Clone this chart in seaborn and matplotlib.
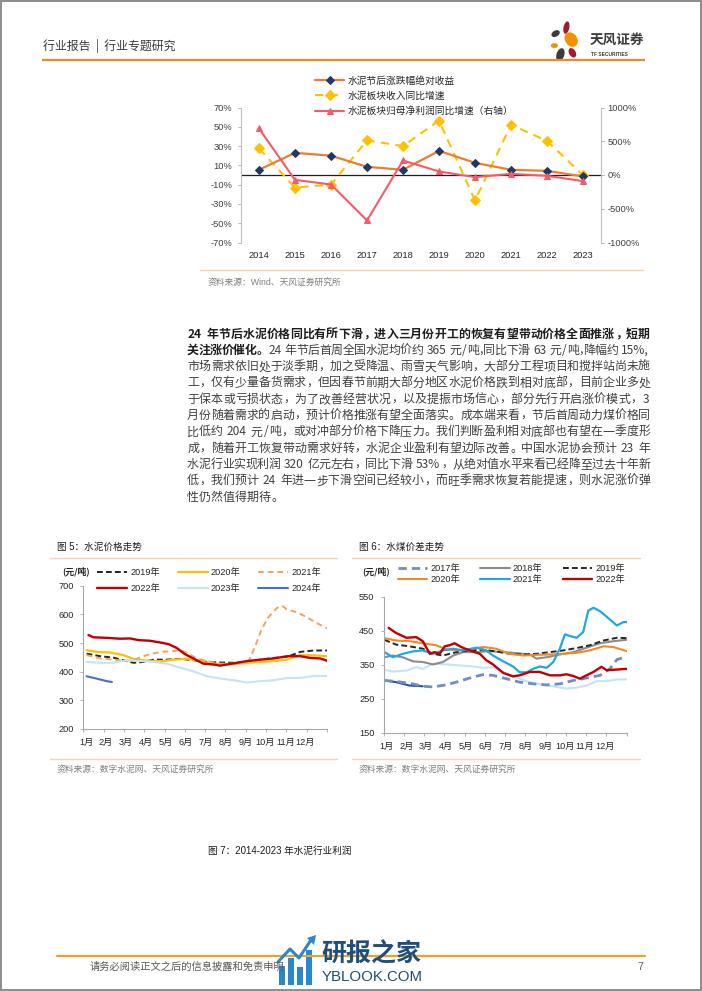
import matplotlib
matplotlib.use("Agg")
import matplotlib.pyplot as plt
import seaborn as sns
import numpy as np
from matplotlib.patches import Ellipse, Rectangle, Polygon

# ---------------- data ----------------
years = ['2014', '2015', '2016', '2017', '2018', '2019', '2020', '2021', '2022', '2023']
abs_ret = [5.4, 23.0, 20.0, 8.5, 5.4, 25.0, 12.6, 5.4, 4.3, -1.5]
rev_growth = [27.5, -13.0, -10.0, 36.0, 30.0, 56.5, -26.4, 52.0, 35.4, -0.2]
np_growth = [689, -72, -141, -674, 215, 52, -32, 17, -12, -91]
top_labels = ['水泥节后涨跌幅绝对收益', '水泥板块收入同比增速', '水泥板块归母净利润同比增速（右轴）']

months = ['1月', '2月', '3月', '4月', '5月', '6月', '7月', '8月', '9月', '10月', '11月', '12月']

# Fig 5: cement price (yuan/ton), x = week of year
f5_wk_2019 = [0.7, 3.6, 6.4, 8.5, 10.7, 12.8, 15.0, 17.8, 20.7, 23.5, 26.4, 29.2, 32.1, 34.9, 37.8, 40.6, 43.5, 46.3, 49.2, 52.0]
f5_2019 = [463, 454, 449, 440, 431, 434, 442, 442, 445, 440, 434, 432, 431, 434, 442, 448, 452, 469, 474, 474]
f5_wk_2020 = [0.7, 2.8, 5.7, 8.5, 10.7, 12.8, 15.0, 17.1, 19.2, 22.1, 24.2, 26.4, 29.2, 32.1, 34.9, 37.8, 40.6, 43.4, 46.3, 49.1, 52.0]
f5_2020 = [475, 469, 467, 458, 445, 440, 437, 437, 442, 445, 440, 431, 426, 426, 431, 434, 437, 442, 458, 457, 454]
f5_wk_2021 = [0.7, 3.6, 6.4, 9.3, 11.4, 13.5, 16.4, 19.2, 20.7, 22.1, 24.2, 26.4, 29.2, 32.1, 35.3, 36.7, 38.1, 39.5, 41.3, 42.4, 43.4, 45.6, 47.7, 49.9, 52.0]
f5_2021 = [458, 446, 442, 437, 445, 458, 469, 472, 475, 466, 446, 437, 428, 428, 437, 490, 550, 590, 622, 630, 618, 607, 590, 569, 551]
f5_wk_2022 = [1.1, 2.1, 5.0, 7.8, 10.0, 11.8, 14.2, 16.7, 18.2, 19.9, 21.7, 23.5, 25.6, 27.8, 29.2, 30.6, 32.8, 34.9, 37.8, 40.6, 43.5, 46.3, 48.4, 50.6, 52.0]
f5_2022 = [528, 520, 518, 515, 516, 510, 508, 501, 496, 483, 461, 446, 428, 425, 421, 425, 431, 437, 442, 446, 454, 454, 448, 446, 438]
f5_wk_2023 = [0.7, 3.6, 6.4, 9.3, 12.1, 15.0, 17.8, 20.7, 23.5, 26.4, 29.2, 32.1, 34.9, 37.8, 40.6, 43.5, 46.3, 49.2, 52.0]
f5_2023 = [434, 431, 431, 440, 437, 434, 428, 414, 401, 384, 376, 370, 362, 367, 370, 378, 378, 385, 385]
f5_wk_2024 = [0.7, 2.8, 5.0, 6.1]
f5_2024 = [384, 376, 367, 364]

# Fig 6: cement-coal price spread (yuan/ton)
f6_wk_2017 = [0.2, 2.7, 6.3, 8.4, 10.6, 13.4, 16.3, 19.1, 21.3, 23.4, 26.3, 29.1, 32.0, 34.9, 37.7, 40.6, 43.4, 46.3, 48.4, 49.9, 52.0]
f6_2017 = [304, 301, 294, 287, 285, 291, 302, 314, 321, 319, 309, 299, 294, 291, 294, 304, 311, 319, 338, 365, 374]
f6_wk_2018 = [0.2, 2.0, 4.1, 6.3, 8.4, 10.6, 12.7, 14.9, 17.0, 19.9, 22.7, 25.6, 28.4, 31.3, 32.7, 34.9, 37.7, 40.6, 43.4, 46.3, 49.1, 52.0]
f6_2018 = [372, 377, 372, 360, 358, 351, 358, 377, 387, 387, 390, 387, 384, 380, 368, 372, 380, 387, 400, 413, 419, 423]
f6_wk_2019 = [0.2, 2.7, 5.6, 8.4, 10.6, 12.7, 15.6, 18.4, 21.3, 24.1, 27.0, 29.9, 32.7, 35.6, 38.4, 41.3, 44.1, 47.0, 49.9, 52.0]
f6_2019 = [423, 409, 404, 397, 382, 377, 387, 392, 394, 389, 382, 380, 382, 387, 392, 399, 407, 421, 429, 428]
f6_wk_2020 = [0.2, 2.7, 5.6, 8.4, 11.3, 13.4, 16.3, 19.1, 21.3, 24.1, 27.0, 29.9, 32.7, 35.6, 38.4, 41.3, 44.1, 47.0, 49.1, 52.0]
f6_2020 = [428, 421, 419, 413, 407, 395, 392, 397, 402, 397, 382, 377, 379, 380, 382, 385, 392, 404, 402, 390]
f6_wk_2021 = [0.2, 2.0, 4.1, 6.3, 8.4, 10.6, 12.7, 14.9, 17.0, 19.9, 22.0, 23.4, 25.6, 27.7, 29.1, 30.6, 32.0, 33.4, 34.9, 36.3, 37.7, 38.8, 39.9, 41.3, 42.7, 43.8, 44.9, 46.3, 47.7, 49.9, 51.3, 52.0]
f6_2021 = [387, 372, 382, 389, 392, 382, 392, 397, 392, 400, 392, 377, 360, 345, 328, 328, 338, 345, 341, 358, 397, 439, 434, 429, 446, 509, 517, 507, 491, 465, 475, 475]
f6_wk_2022 = [1.1, 2.7, 4.9, 7.0, 8.4, 9.9, 10.9, 12.0, 13.1, 14.1, 15.2, 16.6, 18.4, 20.6, 22.0, 23.4, 25.6, 27.7, 29.1, 31.3, 33.4, 35.6, 37.7, 39.1, 40.6, 42.0, 43.4, 44.9, 46.6, 47.7, 49.9, 52.0]
f6_2022 = [458, 443, 429, 431, 419, 382, 387, 382, 404, 407, 413, 402, 392, 382, 363, 351, 326, 316, 319, 329, 329, 319, 319, 322, 317, 309, 319, 329, 344, 334, 336, 338]
f6_wk_2023 = [0.2, 2.0, 4.9, 7.0, 8.4, 10.6, 13.4, 16.3, 19.1, 21.3, 23.4, 25.6, 28.4, 31.3, 34.1, 37.0, 39.1, 41.3, 43.4, 45.6, 47.7, 49.9, 52.0]
f6_2023 = [335, 330, 333, 343, 338, 353, 351, 348, 345, 341, 343, 329, 312, 299, 291, 285, 280, 283, 289, 302, 302, 307, 307]
f6_wk_2024 = [0.2, 2.7, 5.6, 8.4]
f6_2024 = [304, 299, 289, 287]

body_lines = [
    [("24 年节后水泥价格同比有所下滑，进入三月份开工的恢复有望带动价格全面推涨，短期", 'bold')],
    [("关注涨价催化。", 'bold'), ("24 年节后首周全国水泥均价约 365 元/吨,同比下滑 63 元/吨,降幅约 15%,", 'normal')],
    [("市场需求依旧处于淡季期，加之受降温、雨雪天气影响，大部分工程项目和搅拌站尚未施", 'normal')],
    [("工，仅有少量备货需求，但因春节前期大部分地区水泥价格跌到相对底部，目前企业多处", 'normal')],
    [("于保本或亏损状态，为了改善经营状况，以及提振市场信心，部分先行开启涨价模式，3", 'normal')],
    [("月份随着需求的启动，预计价格推涨有望全面落实。成本端来看，节后首周动力煤价格同", 'normal')],
    [("比低约 204 元/吨，或对冲部分价格下降压力。我们判断盈利相对底部也有望在一季度形", 'normal')],
    [("成，随着开工恢复带动需求好转，水泥企业盈利有望边际改善。中国水泥协会预计 23 年", 'normal')],
    [("水泥行业实现利润 320 亿元左右，同比下滑 53%，从绝对值水平来看已经降至过去十年新", 'normal')],
    [("低，我们预计 24 年进一步下滑空间已经较小，而旺季需求恢复若能提速，则水泥涨价弹", 'normal')],
    [("性仍然值得期待。", 'normal')],
]

# ---------------- setup ----------------
sns.set_theme(style="white")
CJK = ["Noto Sans CJK SC", "DejaVu Sans"]
NUM = ["Liberation Sans", "Noto Sans CJK SC", "DejaVu Sans"]
plt.rcParams["font.family"] = CJK
plt.rcParams["axes.unicode_minus"] = False

W, H = 702, 991
fig = plt.figure(figsize=(W / 100, H / 100), dpi=100)
fig.patch.set_facecolor("white")
bg = fig.add_axes([0, 0, 1, 1], zorder=0)
bg.set_xlim(0, W)
bg.set_ylim(H, 0)
bg.axis("off")
renderer = fig.canvas.get_renderer()

ORANGE_LINE = "#E98A2C"
LIGHT_LINE = "#F6D2AE"

# page frame
bg.add_patch(Rectangle((0.8, 0.8), W - 2.0, H - 2.0, fill=False, ec="#8C8C8C", lw=1.4))

# ---------------- header ----------------
bg.text(43, 46, "行业报告  |  行业专题研究", fontsize=8.6, color="#3A3A3A", va="center", ha="left", family=CJK)
bg.plot([42, 645], [59.5, 59.5], color=ORANGE_LINE, lw=1.6, solid_capstyle="butt")
petals = [
    ((555.6, 33.6), 9.0, 6.0, -30, "#3C3C3C"),
    ((566.4, 27.6), 5.8, 12.6, 12, "#A3192F"),
    ((571.2, 39.6), 12.0, 15.6, -35, "#F39200"),
    ((554.4, 45.6), 7.2, 4.8, 0, "#F39200"),
    ((560.4, 54.6), 7.8, 13.2, 18, "#3C3C3C"),
    ((572.4, 52.8), 6.6, 10.2, -30, "#A3192F"),
]
for c, w, h, a, col in petals:
    bg.add_patch(Ellipse(c, w, h, angle=a, color=col, lw=0))
bg.text(590, 40, "天风证券", fontsize=9.8, fontweight="bold", color="#3C3C3C", va="center", ha="left", family=CJK)
bg.text(591, 54.5, "TF SECURITIES", fontsize=3.5, fontweight="bold", color="#3C3C3C", va="center", ha="left", family=NUM)

# ---------------- top chart ----------------
ax1 = fig.add_axes([241 / W, 1 - 242.5 / H, 360 / W, 135 / H], zorder=2)
ax1.patch.set_alpha(0)
xpos = np.arange(len(years))
ax1.axhline(0, color="#1F1F1F", lw=0.9, zorder=1)
sns.lineplot(x=xpos, y=abs_ret, ax=ax1, color="#ED7D31", lw=1.6, marker="D", markersize=4,
             markerfacecolor="#1F3864", markeredgecolor="#1F3864", zorder=4)
h1 = ax1.lines[-1]
sns.lineplot(x=xpos, y=rev_growth, ax=ax1, color="#FFC000", lw=1.5, linestyle=(0, (4, 3)), marker="D",
             markersize=5, markerfacecolor="#FFC000", markeredgecolor="#FFC000", zorder=3)
h2 = ax1.lines[-1]
ax2 = ax1.twinx()
sns.lineplot(x=xpos, y=np_growth, ax=ax2, color="#F45B69", lw=1.5, marker="^", markersize=5,
             markerfacecolor="#F45B69", markeredgecolor="#F45B69", zorder=3)
h3 = ax2.lines[-1]

ax1.set_xlim(-0.5, len(years) - 0.5)
ax1.set_ylim(-70, 70)
lt = list(range(-70, 71, 20))
ax1.set_yticks(lt)
ax1.set_yticklabels([f"{v}%" for v in lt], fontfamily=NUM, fontsize=6.7, color="#404040")
ax1.set_xticks(xpos)
ax1.set_xticklabels(years, fontfamily=NUM, fontsize=6.7, color="#262626")
ax1.tick_params(axis="x", length=0, pad=6)
ax1.tick_params(axis="y", left=True, length=2.2, width=0.6, color="#A6A6A6", pad=4, direction="out")
ax2.set_ylim(-1000, 1000)
rt = [-1000, -500, 0, 500, 1000]
ax2.set_yticks(rt)
ax2.set_yticklabels([f"{v}%" for v in rt], fontfamily=NUM, fontsize=6.7, color="#404040")
ax2.tick_params(axis="y", right=True, length=2.2, width=0.6, color="#A6A6A6", pad=2.5, direction="out")
for s in ["top", "bottom", "right"]:
    ax1.spines[s].set_visible(False)
for s in ["top", "bottom", "left"]:
    ax2.spines[s].set_visible(False)
ax1.spines["left"].set_color("#BFBFBF")
ax1.spines["left"].set_linewidth(0.8)
ax2.spines["right"].set_color("#BFBFBF")
ax2.spines["right"].set_linewidth(0.8)
for a in (ax1, ax2):
    a.set_xlabel("")
    a.set_ylabel("")
    a.grid(False)
fig.legend([h1, h2, h3], top_labels, loc="upper left", bbox_to_anchor=(315 / W, 1 - 75.5 / H),
           frameon=False, prop={"family": CJK, "size": 7}, handlelength=3.0, handletextpad=0.35,
           labelspacing=0.55, borderpad=0, borderaxespad=0, labelcolor="#262626")

bg.plot([200, 643], [270, 270], color=LIGHT_LINE, lw=1.0)
bg.text(208, 282, "资料来源：Wind、天风证券研究所", fontsize=6.3, color="#7F7F7F", va="center", ha="left", family=NUM)

# ---------------- body text ----------------
_wc = {}
def measure(s, size, weight):
    k = (s, size, weight)
    if k not in _wc:
        t = bg.text(0, 0, s, fontsize=size, fontweight=weight, family=CJK)
        _wc[k] = t.get_window_extent(renderer=renderer).width
        t.remove()
    return _wc[k]

PUNCT = set("，。、：；！？")
def draw_line(yc, segs, x0, x1, size, justify=True):
    em = size * 100 / 72
    toks = []
    for text, weight in segs:
        color = "#1E1E1E" if weight == "bold" else "#404040"
        buf = ""
        for ch in text:
            if ch == " ":
                if buf:
                    toks.append((buf, "a", weight, color)); buf = ""
                toks.append((" ", "s", weight, color))
            elif ord(ch) < 128:
                buf += ch
            else:
                if buf:
                    toks.append((buf, "a", weight, color)); buf = ""
                toks.append((ch, "p" if ch in PUNCT else "c", weight, color))
        if buf:
            toks.append((buf, "a", weight, color))
    widths = []
    for t, k, w, c in toks:
        if k == "s":
            widths.append(0.28 * em)
        elif k == "a":
            widths.append(measure(t, size, w) + 0.14 * em)
        else:
            widths.append(em)
    n = len(toks)
    gap = (x1 - x0 - sum(widths)) / (n - 1) if (justify and n > 1) else 0.0
    base = yc + 0.38 * em
    x = x0
    for (t, k, w, c), wd in zip(toks, widths):
        if k == "c":
            bg.text(x + wd / 2, base, t, ha="center", va="baseline", fontsize=size, fontweight=w, color=c, family=CJK)
        elif k in ("p", "a"):
            bg.text(x + 0.07 * em, base, t, ha="left", va="baseline", fontsize=size, fontweight=w, color=c, family=CJK)
        x += wd + gap

for i, segs in enumerate(body_lines):
    draw_line(333 + i * 16.3, segs, 187, 650, 8.6, justify=(i < len(body_lines) - 1))

# ---------------- fig 5 / fig 6 frames ----------------
for (x0, x1, title) in [(50, 337, "图 5：水泥价格走势"), (352, 640, "图 6：水煤价差走势")]:
    bg.text(x0 + 7, 547, title, fontsize=6.9, color="#1A1A1A", va="center", ha="left", family=NUM)
    bg.plot([x0, x1], [557.5, 557.5], color=LIGHT_LINE, lw=1.0)
    bg.plot([x0, x1], [759, 759], color=LIGHT_LINE, lw=1.0)
    bg.text(x0 + 7, 769.5, "资料来源：数字水泥网、天风证券研究所", fontsize=6.3, color="#7F7F7F", va="center", ha="left", family=CJK)

lab_pos = [0.6 + i * 4.25 for i in range(12)]
bounds = [i * 52 / 12 for i in range(13)]

def style_chart(ax, ylim, yticks):
    ax.set_xlim(0, 52)
    ax.set_ylim(*ylim)
    ax.set_yticks(yticks)
    ax.set_yticklabels([str(v) for v in yticks], fontfamily=NUM, fontsize=6.6, color="#262626")
    ax.set_xticks(lab_pos)
    ax.set_xticklabels(months, fontfamily=NUM, fontsize=6.6, color="#262626")
    ax.set_xticks(bounds, minor=True)
    ax.tick_params(axis="x", which="major", length=0, pad=6.5)
    ax.tick_params(axis="x", which="minor", bottom=True, length=2.2, width=0.6, color="#A6A6A6", direction="out")
    ax.tick_params(axis="y", left=True, length=2.0, width=0.6, color="#A6A6A6", pad=4.5, direction="out")
    for s in ["top", "right"]:
        ax.spines[s].set_visible(False)
    for s in ["left", "bottom"]:
        ax.spines[s].set_color("#A6A6A6")
        ax.spines[s].set_linewidth(0.8)
    ax.set_xlabel("")
    ax.set_ylabel("")
    ax.grid(False)
    ax.patch.set_alpha(0)

# fig 5
ax5 = fig.add_axes([83.3 / W, 1 - 729 / H, 243.7 / W, 143.3 / H], zorder=2)
f5 = [
    (f5_wk_2019, f5_2019, "2019年", "#262626", (0, (3, 1.6)), 1.4),
    (f5_wk_2020, f5_2020, "2020年", "#FFC000", "-", 1.6),
    (f5_wk_2021, f5_2021, "2021年", "#F4A35E", (0, (3, 2)), 1.4),
    (f5_wk_2022, f5_2022, "2022年", "#C00000", "-", 1.7),
    (f5_wk_2023, f5_2023, "2023年", "#C3E4F5", "-", 1.5),
    (f5_wk_2024, f5_2024, "2024年", "#4472C4", "-", 1.5),
]
h5 = {}
for wk, vals, lab, col, ls, lw in f5:
    sns.lineplot(x=wk, y=vals, ax=ax5, color=col, linestyle=ls, lw=lw, sort=False)
    h5[lab] = ax5.lines[-1]
style_chart(ax5, (200, 700), list(range(200, 701, 100)))
order5 = ["2019年", "2022年", "2020年", "2023年", "2021年", "2024年"]
ax5.legend([h5[k] for k in order5], order5, ncol=3, loc="upper left",
           bbox_to_anchor=(97 / W, 1 - 568.5 / H), bbox_transform=fig.transFigure, frameon=False,
           prop={"family": NUM, "size": 6.6}, handlelength=3.3, handletextpad=0.35, columnspacing=1.9,
           labelspacing=0.75, borderpad=0, borderaxespad=0, labelcolor="#262626")
bg.text(62, 571, "(元/吨)", fontsize=6.4, fontweight="bold", color="#262626", va="center", ha="left", family=CJK)

# fig 6
ax6 = fig.add_axes([383.5 / W, 1 - 733 / H, 243.2 / W, 136.5 / H], zorder=2)
f6 = [
    (f6_wk_2023, f6_2023, None, "#C3E4F5", "-", 1.5),
    (f6_wk_2024, f6_2024, None, "#2F5597", "-", 1.5),
    (f6_wk_2017, f6_2017, "2017年", "#6E8EC2", (0, (3, 1.8)), 2.0),
    (f6_wk_2018, f6_2018, "2018年", "#8C8C8C", "-", 1.5),
    (f6_wk_2019, f6_2019, "2019年", "#262626", (0, (3, 1.6)), 1.4),
    (f6_wk_2020, f6_2020, "2020年", "#F08A24", "-", 1.5),
    (f6_wk_2021, f6_2021, "2021年", "#1FA8E3", "-", 1.6),
    (f6_wk_2022, f6_2022, "2022年", "#C00000", "-", 1.7),
]
h6 = {}
for wk, vals, lab, col, ls, lw in f6:
    sns.lineplot(x=wk, y=vals, ax=ax6, color=col, linestyle=ls, lw=lw, sort=False)
    if lab:
        h6[lab] = ax6.lines[-1]
style_chart(ax6, (150, 550), list(range(150, 551, 100)))
order6 = ["2017年", "2020年", "2018年", "2021年", "2019年", "2022年"]
ax6.legend([h6[k] for k in order6], order6, ncol=3, loc="upper left",
           bbox_to_anchor=(398 / W, 1 - 564 / H), bbox_transform=fig.transFigure, frameon=False,
           prop={"family": NUM, "size": 6.6}, handlelength=3.2, handletextpad=0.35, columnspacing=2.2,
           labelspacing=0.2, borderpad=0, borderaxespad=0, labelcolor="#262626")
bg.text(362, 571, "(元/吨)", fontsize=6.4, fontweight="bold", color="#262626", va="center", ha="left", family=CJK)

# ---------------- fig 7 caption ----------------
bg.text(208, 851, "图 7：2014-2023 年水泥行业利润", fontsize=6.9, color="#1A1A1A", va="center", ha="left", family=NUM)

# ---------------- footer ----------------
bg.plot([57, 645], [956, 956], color="#F0A030", lw=1.6)
bg.text(90, 967, "请务必阅读正文之后的信息披露和免责申明", fontsize=7.4, color="#595959", va="center", ha="left", family=CJK)
bg.text(637, 967, "7", fontsize=7.4, color="#595959", va="center", ha="left", family=NUM)

# watermark
wm = "#2B88C8"
for bx, top in [(279, 966), (288, 958), (297, 967), (306, 950)]:
    bg.add_patch(Rectangle((bx, top), 6, 985 - top, color=wm, lw=0))
bg.plot([278, 290, 299, 311], [962, 949, 958, 940], color=wm, lw=2.2, solid_capstyle="round")
bg.add_patch(Polygon([[316, 935], [307, 938], [314, 945]], closed=True, color=wm, lw=0))
bg.text(321, 954, "研报之家", fontsize=18, fontweight="bold", color="#1F4E79", va="center", ha="left", family=CJK)
bg.text(322, 977, "YBLOOK.COM", fontsize=10.8, color="#1F4E79", va="center", ha="left", family=NUM)

fig.savefig("out.png", dpi=100, facecolor="white")
